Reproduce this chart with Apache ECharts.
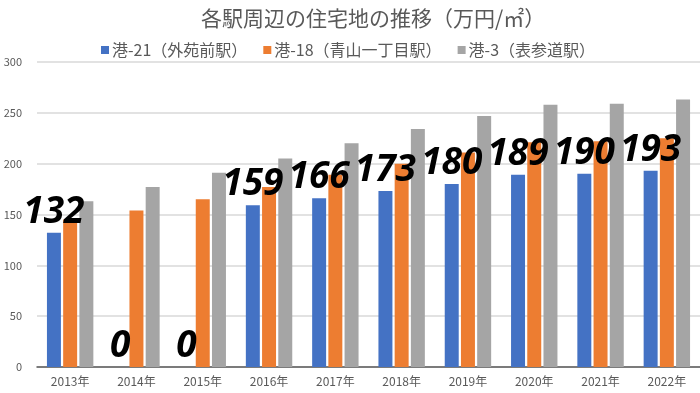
<!DOCTYPE html>
<html>
<head>
<meta charset="utf-8">
<script src="https://cdn.jsdelivr.net/npm/echarts@6/dist/echarts.min.js"></script>
<style>html,body{margin:0;padding:0;background:#fff;}#c{width:700px;height:393px;}</style>
</head>
<body>
<div id="c"></div>
<script>
const categories = ['2013年','2014年','2015年','2016年','2017年','2018年','2019年','2020年','2021年','2022年'];
const seriesNames = ['港-21（外苑前駅）','港-18（青山一丁目駅）','港-3（表参道駅）'];
const minato21 = [132, 0, 0, 159, 166, 173, 180, 189, 190, 193];
const minato18 = [145, 154, 165, 177, 189, 200, 211, 221, 222, 225];
const minato3 = [163, 177, 191, 205, 220, 234, 247, 258, 259, 263];
const yTicks = { min: 0, max: 300, interval: 50 };

const FONT = '"Noto Sans CJK JP", "Noto Sans", sans-serif';
const chart = echarts.init(document.getElementById('c'), null, {renderer: 'canvas'});
chart.setOption({
  animation: false,
  backgroundColor: '#ffffff',
  title: {
    text: '各駅周辺の住宅地の推移（万円/㎡）',
    left: 196, top: 3,
    textStyle: { fontFamily: FONT, fontSize: 21, fontWeight: 'normal', color: '#595959' }
  },
  legend: {
    left: 96, top: 37,
    itemWidth: 8, itemHeight: 8, itemGap: 16,
    icon: 'rect',
    textStyle: { fontFamily: FONT, fontSize: 16, color: '#595959', padding: [0,0,0,-2] },
    data: seriesNames
  },
  grid: { left: 37, right: 0, top: 62, bottom: 26, containLabel: false },
  xAxis: {
    type: 'category',
    data: categories,
    axisLine: { lineStyle: { color: '#595959', width: 1.5 } },
    axisTick: { show: false },
    axisLabel: { fontFamily: FONT, fontSize: 12, color: '#595959', margin: 8 }
  },
  yAxis: {
    type: 'value',
    min: yTicks.min, max: yTicks.max, interval: yTicks.interval,
    axisLine: { show: false },
    axisTick: { show: false },
    axisLabel: { fontFamily: FONT, fontSize: 11, color: '#595959', margin: 15 },
    splitLine: { lineStyle: { color: '#d9d9d9', width: 1.5 } }
  },
  series: [
    {
      name: seriesNames[0], type: 'bar', data: minato21,
      itemStyle: { color: '#4472C4' },
      barGap: '16%', barCategoryGap: '30%',
      label: {
        show: true, position: 'top', distance: 2,
        fontFamily: '"Open Sans", "Noto Sans", sans-serif',
        fontSize: 37, fontWeight: 'bold', fontStyle: 'italic', color: '#000000'
      },
      z: 3
    },
    { name: seriesNames[1], type: 'bar', data: minato18, itemStyle: { color: '#ED7D31' }, barGap: '16%', barCategoryGap: '30%', z: 2 },
    { name: seriesNames[2], type: 'bar', data: minato3, itemStyle: { color: '#A5A5A5' }, barGap: '16%', barCategoryGap: '30%', z: 2 }
  ]
});
</script>
</body>
</html>
